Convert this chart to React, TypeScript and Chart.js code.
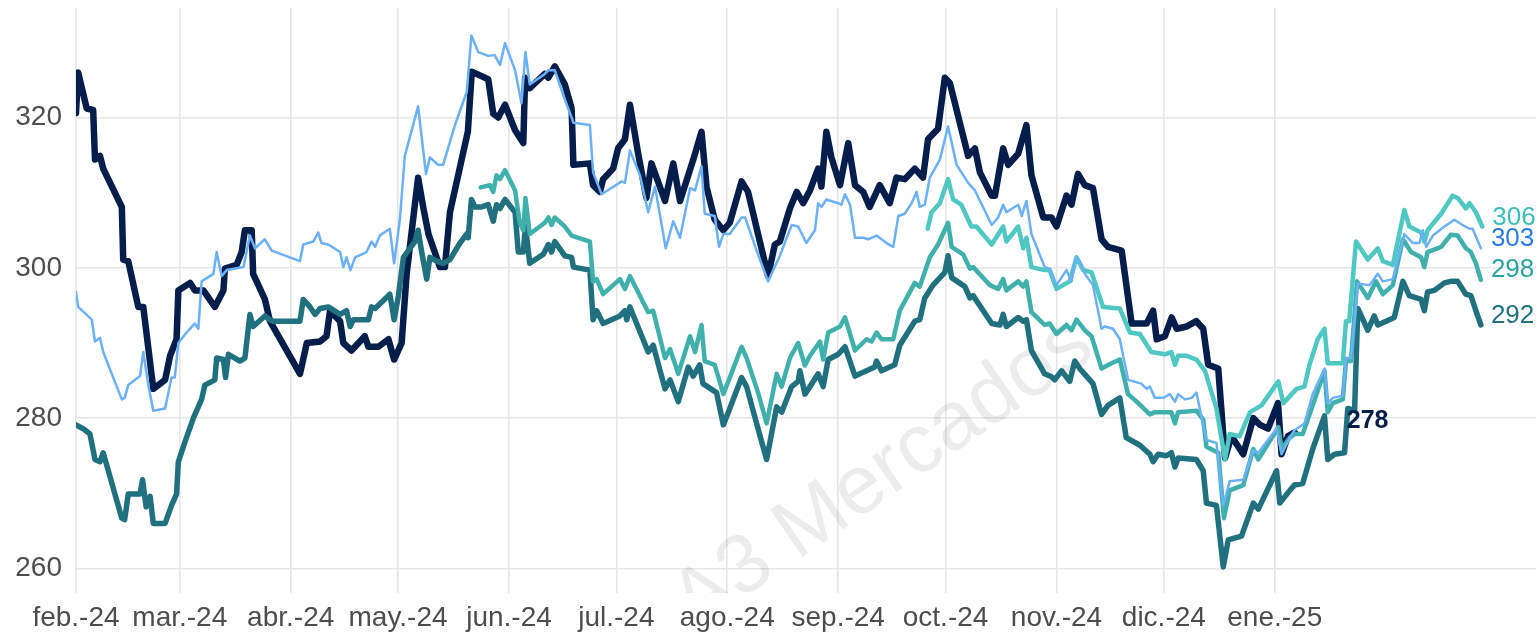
import React, { useEffect, useRef } from "react";
import { Chart, registerables } from "chart.js";

Chart.register(...registerables);

// x values: days since 1 Feb 2024 ; y values: price
const monthStarts = [0, 29, 60, 90, 121, 151, 182, 213, 243, 274, 304, 335];
const monthLabels = [
  "feb.-24", "mar.-24", "abr.-24", "may.-24", "jun.-24", "jul.-24",
  "ago.-24", "sep.-24", "oct.-24", "nov.-24", "dic.-24", "ene.-25",
];
const yTicks = [260, 280, 300, 320];

const navySeries: [number, number][] = [
  [0, 320.6], [0.6, 326.0], [3, 321.2], [4.8, 321.0], [5.3, 314.4], [6.7, 314.9], [7.6, 313.2],
  [12.8, 308.1], [13.2, 301.1], [14.6, 300.9], [17.4, 294.8], [18.8, 294.8], [21.6, 283.9],
  [24.9, 285.1], [26.3, 288.3], [28.1, 290.5], [28.6, 297.0], [31.9, 298.0], [33.2, 297.0],
  [35.6, 297.0], [38.8, 294.8], [41.2, 297.0], [41.6, 299.9], [44.9, 300.4], [46.3, 302.1],
  [47.2, 305.0], [49.1, 305.0], [49.5, 299.2], [52.8, 295.8], [54.2, 292.9], [62.6, 285.9],
  [64.5, 290.0], [68.2, 290.2], [70, 290.9], [71, 294.3], [73.8, 292.9], [74.7, 290.0],
  [77, 289.0], [80.7, 290.9], [81.7, 289.5], [84.5, 289.5], [87.3, 290.5], [88.9, 287.8],
  [91, 290.0], [92.4, 299.2], [95.6, 312.0], [97.1, 307.9], [98.5, 304.5], [101.7, 300.1],
  [103.1, 300.1], [104.5, 307.4], [109.5, 318.1], [110.6, 326.1], [115.2, 325.1], [116.6, 320.5],
  [118, 320.0], [119.9, 321.7], [122.7, 318.3], [125, 316.6], [125.5, 325.3], [126.8, 323.9],
  [131, 325.8], [132, 325.3], [133.8, 326.8], [136.6, 324.4], [138.5, 321.2], [139, 313.7],
  [143.6, 313.9], [144.5, 311.0], [146.4, 310.1], [147.3, 311.8], [150.1, 313.2], [151.5, 315.9],
  [153.4, 317.1], [154.8, 321.7], [157.1, 315.2], [159.4, 309.3], [160.8, 313.9], [164.6, 308.9],
  [166.9, 313.9], [168.8, 308.9], [172.5, 314.4], [174.8, 318.1], [176.2, 310.8], [178.5, 306.4],
  [180.9, 305.0], [182.7, 306.0], [186, 311.5], [187.8, 310.1], [193.4, 298.9], [195.3, 303.1],
  [196.7, 303.5], [199.5, 307.9], [201.4, 310.1], [203.2, 308.6], [205.1, 310.3], [207.4, 313.2],
  [208.3, 310.8], [209.7, 318.1], [211.1, 314.7], [213.5, 311.0], [215.8, 316.6], [217.7, 311.0],
  [220, 310.1], [221.8, 308.1], [224.6, 311.0], [227.4, 308.6], [229.3, 312.0], [231.6, 311.8],
  [234.4, 313.2], [236.7, 312.0], [238.1, 317.1], [240.9, 318.5], [242.8, 325.3], [244.2, 324.6],
  [249.3, 314.9], [251.2, 315.9], [252.6, 312.7], [255.9, 309.6], [256.8, 309.6], [259.1, 315.9],
  [260.5, 313.7], [263.3, 315.2], [265.6, 319.0], [267, 312.3], [270.3, 306.7], [272.6, 306.7],
  [274, 305.5], [276.8, 309.6], [278.2, 308.4], [280, 312.5], [281.9, 311.0], [284.2, 310.6],
  [286.6, 303.8], [288.4, 302.8], [292.2, 302.3], [295, 292.6], [299.2, 292.6], [301, 294.3],
  [302, 290.5], [304.3, 290.9], [306.2, 293.4], [307.6, 291.9], [310.4, 292.2], [313.1, 292.9],
  [315, 291.9], [316.4, 287.1], [319.2, 286.6], [321.1, 274.7], [322.9, 277.6], [326.2, 275.2],
  [329, 280.0], [330.9, 279.1], [333.1, 278.6], [335.9, 282.0], [336.9, 275.2], [338.7, 277.6],
  [340.6, 278.1],
];

const lightBlueSeries: [number, number][] = [
  [0, 296.8], [0.6, 294.8], [4.4, 293.1], [5.3, 290.2], [6.7, 290.7], [7.6, 288.8], [12.8, 282.5],
  [13.6, 282.7], [14.6, 284.4], [17.9, 285.6], [18.8, 288.8], [20.2, 284.4], [21.6, 281.0],
  [24.9, 281.3], [26.7, 285.4], [27.6, 285.4], [28.6, 290.0], [30.9, 291.4], [33.2, 292.6],
  [34.2, 291.9], [35.1, 298.2], [38.4, 299.2], [39.3, 302.1], [40.7, 298.9], [42.1, 299.7],
  [46.8, 300.1], [48.6, 304.3], [50, 302.6], [52.8, 303.8], [54.7, 302.3], [62.6, 300.9],
  [63.5, 303.1], [66.3, 303.5], [67.7, 304.7], [68.6, 303.3], [70.5, 303.1], [73.8, 302.1],
  [74.7, 300.1], [75.6, 301.4], [76.7, 299.7], [78, 301.4], [81.2, 302.1], [82.6, 303.5],
  [83.6, 302.8], [84.9, 304.3], [87.7, 305.2], [88.9, 300.6], [90.5, 306.4], [91.9, 314.9],
  [95.6, 321.5], [97.8, 312.5], [98.9, 314.7], [101.2, 313.7], [102.6, 313.7], [105.9, 319.0],
  [109.2, 323.4], [110.5, 330.9], [112.4, 328.7], [115.2, 328.2], [117, 328.3], [118.5, 327.0],
  [119.9, 329.9], [122.7, 326.3], [124.5, 321.9], [125.6, 328.7], [126.8, 324.4], [131, 325.8],
  [132, 326.3], [133.8, 326.3], [136.6, 322.4], [138.5, 320.0], [139, 319.3], [143.6, 319.0],
  [144.5, 312.7], [146.9, 309.8], [152.5, 311.5], [153.4, 311.3], [154.8, 315.6], [157.6, 312.3],
  [159.9, 307.4], [161.8, 310.8], [164.8, 302.6], [166.9, 306.2], [168.8, 304.0], [171.6, 310.6],
  [173, 310.3], [174.8, 313.5], [175.7, 307.2], [178.5, 306.9], [179.7, 302.8], [180.9, 304.5],
  [182.7, 304.5], [186, 306.7], [187, 306.7], [190.2, 302.3], [193.4, 298.2], [196.7, 301.6],
  [200, 305.7], [201.8, 305.5], [204.1, 303.3], [206.5, 305.0], [207.4, 308.6], [208.3, 308.1],
  [209.7, 309.1], [213, 308.6], [213.9, 308.4], [214.9, 309.8], [216.3, 308.4], [217.7, 304.0],
  [220, 304.0], [221.4, 303.8], [223.7, 304.3], [226.5, 303.3], [228.4, 302.8], [229.8, 306.9],
  [231.6, 307.2], [233.5, 308.6], [234.9, 310.1], [235.8, 308.1], [237.2, 308.4], [238.6, 312.0],
  [241.4, 314.4], [243.7, 318.8], [246.1, 313.7], [249.3, 311.3], [251.2, 310.3], [255.9, 305.7],
  [257.7, 306.7], [259.1, 308.4], [260, 307.4], [263.3, 308.4], [264.3, 306.9], [265.6, 308.9],
  [267, 304.5], [270.7, 300.1], [272.1, 299.9], [274, 297.7], [276.8, 299.7], [278.2, 298.2],
  [279.4, 301.4], [280.5, 300.9], [281.9, 299.2], [284.2, 297.7], [286.6, 291.9], [287.5, 292.2],
  [289.8, 291.9], [291.7, 290.5], [294, 285.1], [297.7, 284.6], [299.2, 283.9], [300.1, 284.2],
  [301.5, 282.7], [303.8, 282.7], [305.7, 283.2], [307.1, 282.2], [308, 283.2], [309.9, 282.5],
  [311.8, 282.7], [313.1, 283.4], [315.9, 277.1], [318.7, 276.7], [320.6, 268.4], [322.4, 271.6],
  [326.2, 271.8], [329, 275.7], [330.4, 275.4], [335.5, 278.6], [336.9, 275.2], [339.2, 277.4],
  [340.5, 278.4], [343.3, 279.3], [345.6, 283.2], [348.9, 286.6], [349.8, 282.0], [351.2, 282.7],
  [354, 283.0], [354.9, 288.0], [356.3, 288.0], [358.2, 297.9], [361.5, 297.7], [363.8, 299.2],
  [365.2, 298.2], [368, 298.5], [371.2, 304.5], [373.6, 303.3], [375.4, 303.3], [376.4, 305.0],
  [377.3, 302.8], [379.2, 304.3], [382.4, 305.5], [385.2, 306.4], [387.5, 305.7], [389.4, 305.2],
  [390.3, 305.2], [392.6, 302.6],
];

const darkTealSeries: [number, number][] = [
  [0, 279.1], [2, 278.6], [3.9, 277.9], [5.3, 274.5], [6.7, 274.2], [7.6, 275.4], [12.8, 266.7],
  [13.6, 266.5], [14.6, 269.9], [17.9, 269.9], [18.6, 271.8], [19.6, 268.2], [20.7, 269.6],
  [21.6, 266.0], [24.9, 266.0], [26.7, 268.4], [28.1, 269.9], [28.6, 274.2], [30.5, 276.9],
  [32.8, 280.0], [35.1, 282.5], [36, 284.4], [38.8, 285.1], [39.3, 288.0], [41.2, 287.8],
  [41.8, 285.4], [42.6, 288.5], [45.8, 287.6], [47.2, 288.0], [48.6, 293.8], [49.5, 292.2],
  [52.8, 293.6], [54.2, 293.1], [55.1, 292.9], [62.6, 292.9], [63.5, 295.8], [65.4, 294.8],
  [66.8, 293.8], [68.2, 294.6], [70.5, 294.8], [73.8, 293.8], [75.6, 294.3], [76.6, 292.2],
  [77.5, 293.1], [81.7, 293.1], [82.6, 294.8], [83.6, 294.6], [87.7, 296.5], [88.9, 293.1],
  [90.1, 296.3], [91.5, 301.4], [94.7, 303.5], [95.6, 305.0], [96.6, 302.1], [98, 298.5],
  [98.9, 301.4], [100.8, 300.9], [102.6, 300.6], [104.5, 301.1], [107.3, 303.3], [109.2, 304.5],
  [109.6, 304.0], [110.5, 309.1], [111.5, 308.1], [113.4, 308.1], [115.2, 308.4], [116.6, 306.2],
  [117.5, 308.4], [118.5, 307.9], [119.9, 309.1], [122.7, 307.4], [123.6, 302.1], [125, 302.1],
  [125.6, 305.5], [126.8, 300.6], [130.6, 301.8], [132, 303.1], [132.9, 302.1], [133.8, 303.5],
  [136.6, 301.6], [138.5, 301.4], [139, 300.1], [143.6, 299.7], [144.5, 293.1], [145.5, 294.3],
  [147.3, 292.6], [152, 293.6], [153.4, 294.3], [153.9, 293.1], [154.8, 294.8], [159.9, 288.8],
  [161.3, 289.7], [164.6, 283.9], [166, 285.1], [168.3, 282.2], [171.1, 286.8], [172.5, 285.6],
  [174.3, 287.1], [175.2, 284.6], [179, 283.4], [180.9, 279.1], [182.7, 281.3], [186, 285.4],
  [187.4, 284.2], [190.6, 278.6], [193, 274.5], [195.8, 281.5], [197.2, 280.8], [200, 284.2],
  [201.8, 284.9], [202.3, 286.3], [203.7, 283.2], [205.1, 284.2], [207.4, 285.9], [208.8, 284.2],
  [210.2, 287.8], [213, 288.5], [214.9, 289.5], [217.7, 285.6], [220.9, 286.3], [223.2, 286.8],
  [223.7, 287.6], [225.1, 286.3], [228.8, 287.1], [230.2, 289.7], [234.4, 292.9], [235.8, 293.1],
  [237.2, 296.0], [239.5, 297.7], [242.8, 299.4], [243.7, 301.6], [244.7, 298.7], [248.4, 297.5],
  [249.8, 296.0], [250.7, 296.3], [255.9, 292.6], [258.2, 292.4], [259.1, 293.8], [260, 292.2],
  [263.3, 293.4], [264.7, 292.9], [265.6, 293.1], [267, 289.0], [270.7, 285.9], [272.6, 285.5],
  [273.5, 285.1], [275.4, 286.3], [277.7, 284.9], [279.1, 287.6], [280.5, 286.6], [284.2, 284.6],
  [286.6, 280.5], [288.4, 281.7], [291.7, 282.7], [293.5, 277.4], [297.3, 276.4], [300.1, 275.2],
  [301, 274.2], [302.4, 275.2], [304.7, 275.0], [306.1, 275.4], [307.1, 273.5], [308, 274.7],
  [313.1, 274.5], [315, 273.0], [315.9, 268.7], [318.7, 268.4], [320.6, 260.2], [322, 263.8],
  [325.7, 264.3], [329, 268.7], [330.4, 267.9], [335.5, 273.0], [336.4, 268.7], [339.2, 270.4],
  [340.5, 271.1], [342.8, 271.3], [345.6, 275.9], [348.9, 280.3], [349.8, 274.5], [351.7, 275.2],
  [354.5, 275.4], [355.4, 281.3], [357.3, 281.0], [358.2, 294.6], [361, 291.7], [362.8, 293.6],
  [363.8, 292.4], [367, 293.1], [368.4, 293.4], [370.8, 298.2], [372.6, 296.3], [375.9, 295.8],
  [376.8, 294.3], [377.7, 296.8], [379.6, 297.0], [382.4, 298.0], [384.2, 298.2], [386.1, 298.2],
  [388.4, 296.5], [389.8, 296.3], [391.2, 294.3], [392.6, 292.4],
];

const midTealSeries: [number, number][] = [
  [113.1, 310.7], [115.7, 311.0], [116.6, 310.1], [117.5, 312.3], [118.5, 311.8], [119.9, 313.0],
  [122.7, 310.3], [124, 306.0], [125, 305.0], [125.6, 309.3], [126.8, 304.5], [128.2, 305.0],
  [131, 306.0], [132, 306.7], [132.9, 305.7], [133.8, 306.7], [136.6, 305.5], [138.5, 304.3],
  [143.6, 303.5], [144.5, 298.2], [145.5, 298.5], [147.3, 296.5], [152, 298.5], [153.4, 297.2],
  [154.8, 298.9], [159.9, 294.1], [161.3, 294.3], [164.6, 288.0], [166, 289.2], [168.3, 285.9],
  [171.6, 290.9], [173, 288.8], [174.8, 292.4], [175.7, 287.6], [178.5, 287.1], [180.9, 283.2],
  [182.7, 285.4], [186, 289.5], [187.4, 288.0], [190.6, 283.4], [193, 279.3], [195.8, 285.9],
  [197.2, 284.2], [199.5, 288.0], [201.8, 290.0], [203.7, 287.0], [205.1, 288.3], [207.9, 290.2],
  [208.8, 287.8], [210.2, 291.4], [213.5, 292.2], [214.9, 293.4], [217.7, 289.0], [220.9, 290.5],
  [222.3, 290.2], [223.7, 291.4], [225.1, 290.5], [228.4, 290.5], [230.2, 294.3], [234.4, 298.0],
  [235.8, 297.5], [238.6, 301.4], [240.9, 303.1], [243.7, 306.0], [244.7, 302.8], [247.9, 301.8],
  [249.8, 299.9], [250.7, 300.1], [255.4, 297.7], [257.7, 297.2], [259.1, 298.5], [260, 297.0],
  [263.3, 298.2], [264.7, 297.5], [265.6, 298.2], [267, 294.1], [270.7, 292.4], [272.1, 292.6],
  [274, 291.2], [276.8, 292.4], [278.2, 291.7], [279.6, 293.1], [281.9, 291.7], [283.8, 290.9],
  [286.6, 286.6], [289.4, 287.3], [291.7, 287.8], [294, 283.2], [296.4, 282.2], [300.1, 280.5],
  [301.5, 280.8], [306.1, 280.8], [307.1, 279.3], [308, 280.8], [313.1, 281.0], [315, 279.8],
  [315.9, 276.2], [319.2, 275.4], [320.8, 266.7], [322.4, 270.4], [326.2, 271.1], [329, 275.9],
  [330.4, 274.5], [336, 278.8], [336.9, 275.9], [339.2, 277.4], [340.5, 277.9], [342.8, 277.9],
  [345.6, 281.7], [348.9, 286.3], [349.8, 280.8], [351.2, 282.0], [354, 282.5], [354.9, 287.6],
  [356.3, 287.6], [358, 298.2], [361, 296.0], [363.3, 298.2], [365.2, 296.5], [368, 297.7],
  [370.8, 303.8], [373.1, 302.1], [375.9, 301.4], [376.8, 300.1], [377.7, 302.1], [381.5, 302.8],
  [384.2, 304.4], [386.1, 304.3], [388.4, 302.6], [389.8, 302.1], [391.2, 300.6], [392.6, 298.4],
];

const lightTealSeries: [number, number][] = [
  [238, 305.2], [239.1, 307.4], [241.4, 308.6], [243.7, 311.8], [245.1, 309.1], [247.4, 308.4],
  [250.2, 305.5], [251.6, 305.5], [255.9, 303.1], [259.1, 305.5], [260, 303.5], [263.3, 305.5],
  [264.7, 302.6], [265.6, 304.0], [267, 300.1], [270.7, 299.7], [272.1, 299.7], [274, 297.2],
  [277.7, 298.2], [279.6, 301.4], [281.5, 299.7], [283.8, 299.4], [287, 294.8], [291.7, 294.6],
  [294.5, 291.4], [297.3, 291.2], [300.5, 288.8], [304.3, 288.5], [306.1, 288.8], [307.1, 287.1],
  [308, 288.3], [310.4, 288.3], [313.1, 287.8], [315.5, 286.3], [318.7, 281.3], [321.1, 274.5],
  [322.4, 277.9], [325.2, 277.6], [328.1, 280.8], [331.3, 281.7], [336, 284.9], [337.4, 282.0],
  [341.1, 283.9], [343.3, 284.2], [344.7, 287.1], [347, 290.5], [348.9, 291.9], [349.8, 287.3],
  [354, 287.3], [354.9, 292.9], [355.8, 292.9], [357.7, 303.5], [361, 301.1], [363.8, 302.6],
  [365.2, 300.9], [368, 300.4], [371.2, 307.7], [372.6, 305.5], [375.9, 304.7], [376.8, 303.5],
  [377.7, 305.0], [381.5, 307.2], [384.7, 309.6], [386.1, 309.3], [388.4, 307.9], [389.4, 308.6],
  [391.2, 307.4], [393, 305.5],
];

const FONT = "'Liberation Sans', Arial, Helvetica, sans-serif";
const AXIS_TEXT = "#4d4d4d";
const GRID = "#e6e6e6";

type SeriesDef = {
  key: string;
  points: [number, number][];
  color: string;
  width: number;
  order: number;
  labelColor: string;
  labelBold?: boolean;
  labelDx: number;
  labelDy: number;
  labelSize: number;
};

const seriesDefs: SeriesDef[] = [
  { key: "lightBlue", points: lightBlueSeries, color: "#6cb0f7", width: 2.5, order: 0, labelColor: "#2c7be5", labelDx: 10, labelDy: -9, labelSize: 26 },
  { key: "lightTeal", points: lightTealSeries, color: "#4fc7c2", width: 4.5, order: 1, labelColor: "#3dbdb7", labelDx: 10, labelDy: -9, labelSize: 26 },
  { key: "midTeal", points: midTealSeries, color: "#40b0ac", width: 4.5, order: 2, labelColor: "#2aa39c", labelDx: 10, labelDy: -10, labelSize: 26 },
  { key: "darkTeal", points: darkTealSeries, color: "#21707f", width: 5.5, order: 3, labelColor: "#22717f", labelDx: 10, labelDy: -9, labelSize: 26 },
  { key: "navy", points: navySeries, color: "#041d4a", width: 6.5, order: 4, labelColor: "#041d4a", labelBold: true, labelDx: 52, labelDy: -11, labelSize: 25 },
];

const watermarkPlugin = {
  id: "watermark",
  beforeDatasetsDraw(chart: any) {
    const { ctx, chartArea } = chart;
    const cx = chartArea.left + (chartArea.right - chartArea.left) * 0.5527;
    const cy = chartArea.top + (chartArea.bottom - chartArea.top) * 0.7966;
    ctx.save();
    ctx.beginPath();
    ctx.rect(chartArea.left, chartArea.top, chartArea.right - chartArea.left, chartArea.bottom - chartArea.top);
    ctx.clip();
    ctx.translate(cx, cy);
    ctx.rotate((-34.5 * Math.PI) / 180);
    ctx.font = `83px ${FONT}`;
    ctx.fillStyle = "rgba(0,0,0,0.075)";
    ctx.textAlign = "center";
    ctx.textBaseline = "middle";
    ctx.fillText("A3 Mercados", 0, 0);
    ctx.restore();
  },
};

const endLabelPlugin = {
  id: "endLabels",
  afterDatasetsDraw(chart: any) {
    const { ctx } = chart;
    const xs = chart.scales.x;
    const ys = chart.scales.y;
    ctx.save();
    seriesDefs.forEach((s) => {
      const last = s.points[s.points.length - 1];
      const px = xs.getPixelForValue(last[0]) + s.labelDx;
      const py = ys.getPixelForValue(last[1]) + s.labelDy;
      ctx.font = `${s.labelBold ? "bold " : ""}${s.labelSize}px ${FONT}`;
      ctx.fillStyle = s.labelColor;
      ctx.textAlign = "left";
      ctx.textBaseline = "middle";
      ctx.fillText(String(Math.round(last[1])), px, py);
    });
    ctx.restore();
  },
};

export default function App() {
  const canvasRef = useRef<HTMLCanvasElement | null>(null);

  useEffect(() => {
    if (!canvasRef.current) return;
    Chart.defaults.font.family = FONT;
    const chart = new Chart(canvasRef.current, {
      type: "line",
      data: {
        datasets: seriesDefs.map((s) => ({
          label: s.key,
          data: s.points.map(([x, y]) => ({ x, y })),
          borderColor: s.color,
          backgroundColor: s.color,
          borderWidth: s.width,
          order: s.order,
          pointRadius: 0,
          tension: 0,
          fill: false,
          borderJoinStyle: "round" as const,
          borderCapStyle: "round" as const,
        })),
      },
      options: {
        animation: false,
        responsive: false,
        maintainAspectRatio: false,
        parsing: false,
        layout: { padding: { left: 0, right: 2, top: 8, bottom: 0 } },
        plugins: { legend: { display: false }, tooltip: { enabled: false } },
        scales: {
          x: {
            type: "linear",
            min: 0,
            max: 408,
            afterBuildTicks: (scale: any) => {
              scale.ticks = monthStarts.map((v) => ({ value: v }));
            },
            afterFit: (scale: any) => {
              scale.height = 41;
              scale.paddingLeft = 0;
              scale.paddingRight = 0;
            },
            ticks: {
              autoSkip: false,
              maxRotation: 0,
              minRotation: 0,
              padding: 8,
              color: AXIS_TEXT,
              font: { size: 28, family: FONT },
              callback: (_v: any, i: number) => monthLabels[i],
            },
            grid: { color: GRID, lineWidth: 1.6, drawTicks: false },
            border: { display: false },
          },
          y: {
            type: "linear",
            min: 256.74,
            max: 334.57,
            afterBuildTicks: (scale: any) => {
              scale.ticks = yTicks.map((v) => ({ value: v }));
            },
            afterFit: (scale: any) => {
              scale.width = 76;
              scale.paddingTop = 0;
              scale.paddingBottom = 0;
            },
            ticks: {
              padding: 14,
              color: AXIS_TEXT,
              font: { size: 28, family: FONT },
              callback: (v: any) => String(v),
            },
            grid: { color: GRID, lineWidth: 1.6, drawTicks: false },
            border: { display: false },
          },
        },
      },
      plugins: [watermarkPlugin, endLabelPlugin],
    } as any);
    return () => chart.destroy();
  }, []);

  return (
    <div style={{ position: "absolute", left: 0, top: 0, width: 1538, height: 634, background: "#ffffff" }}>
      <canvas ref={canvasRef} width={1538} height={634} style={{ width: 1538, height: 634, display: "block" }} />
    </div>
  );
}
